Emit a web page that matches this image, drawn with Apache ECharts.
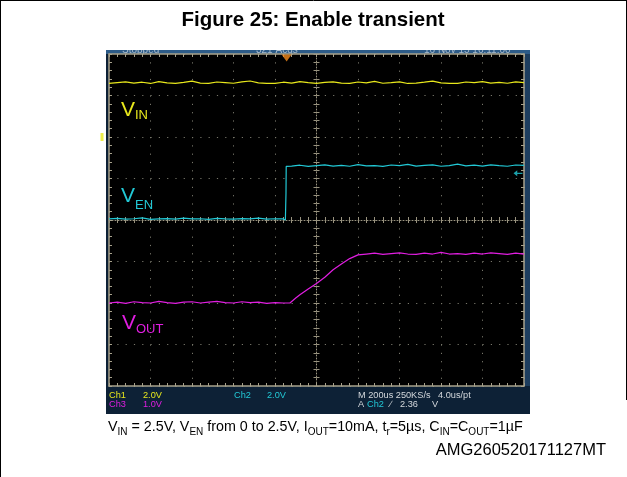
<!DOCTYPE html>
<html><head><meta charset="utf-8">
<script src="https://cdn.jsdelivr.net/npm/echarts@6/dist/echarts.min.js"></script>
<style>html,body{margin:0;padding:0;background:#fff}#c{width:627px;height:477px}</style>
</head><body><div id="c"></div>
<script>
// ---- data (time in µs, 200 µs/div; voltages in V) ----
const vinTime = [0,40,80,120,160,200,240,280,320,360,400,440,480,520,560,600,640,680,720,760,800,840,880,920,960,1000,1040,1080,1120,1160,1200,1240,1280,1320,1360,1400,1440,1480,1520,1560,1600,1640,1680,1720,1760,1800,1840,1880,1920,1960,2000];
const vinValue = [2.58,2.62,2.66,2.60,2.64,2.58,2.67,2.61,2.58,2.63,
                  2.69,2.60,2.58,2.65,2.62,2.59,2.66,2.70,2.61,2.58,
                  2.58,2.64,2.60,2.67,2.62,2.58,2.63,2.66,2.60,2.58,
                  2.65,2.61,2.68,2.59,2.62,2.66,2.58,2.60,2.64,2.69,
                  2.61,2.58,2.58,2.65,2.62,2.67,2.60,2.63,2.59,2.66,2.62];
const venTime = [0,40,80,120,160,200,240,280,320,360,400,440,480,520,560,600,640,680,720,760,800,840,850,853,854,880,920,960,1000,1040,1080,1120,1160,1200,1240,1280,1320,1360,1400,1440,1480,1520,1560,1600,1640,1680,1720,1760,1800,1840,1880,1920,1960,2000];
const venValue = [0.05,0.08,0.04,0.06,0.10,0.03,0.05,0.07,0.04,0.09,0.05,0.06,0.03,0.08,0.05,0.04,0.07,0.05,0.09,0.04,0.06,0.05,
                  0.00,1.30,2.58,
                  2.60,2.64,2.58,2.62,2.66,2.60,2.63,2.59,2.67,2.61,2.62,2.58,2.65,2.62,2.68,2.60,2.63,2.66,2.59,2.62,2.69,2.61,2.64,2.60,2.66,2.62,2.59,2.65,2.63];
const voutTime = [0,40,80,120,160,200,240,280,320,360,400,440,480,520,560,600,640,680,720,760,800,840,872,900,920,960,1000,1040,1080,1120,1160,1200,1240,1280,1320,1360,1400,1440,1480,1520,1560,1600,1640,1680,1720,1760,1800,1840,1880,1920,1960,2000];
const voutValue = [0.00,0.02,-0.01,0.03,0.01,0.00,0.04,0.01,-0.01,0.02,0.03,0.00,0.02,0.04,0.01,0.00,0.03,0.01,0.02,-0.01,0.01,0.00,
                   0.00,0.12,0.20,0.34,0.47,0.62,0.80,0.94,1.07,1.16,
                   1.18,1.20,1.17,1.19,1.21,1.18,1.17,1.20,1.18,1.22,1.18,1.19,1.17,1.20,1.18,1.21,1.19,1.17,1.20,1.18];
const triggerTime = 856;      // µs
const triggerLevel = 2.25;    // V (Ch2)
const timeRange = [0, 2000];  // 10 div x 200 µs
const vinRange = [-12, 4];    // Ch1 2.0 V/div
const venRange = [-8, 8];     // Ch2 2.0 V/div
const voutRange = [-2, 6];    // Ch3 1.0 V/div

const zip = (t, v) => t.map((x, i) => [x, v[i]]);
const FONT = "'Liberation Sans', Arial, sans-serif";
const borderCol = '#a8a28c', gridCol = '#77766a', centerCol = '#99937f';
const YEL = '#e8e81c', CYA = '#22c9d6', MAG = '#e11ee1', LIGHT = '#d4d8dc';

const chart = echarts.init(document.getElementById('c'));
const edgeTick = {show:true, inside:true, length:3, lineStyle:{color:borderCol}};
const edgeMinor = {show:true, splitNumber:5, length:3, lineStyle:{color:borderCol}};
const noLabel = {show:false};
function txt(text, x, y, size, color, z) {
  return {type:'text', z:(z == null ? 20 : z), style:{text, x, y, font:`${size}px ${FONT}`, fill:color, verticalAlign:'bottom'}};
}
const option = {
  backgroundColor:'#fff',
  animation:false,
  grid:{left:109, top:54, width:415, height:332, show:true, backgroundColor:'#000', borderWidth:0},
  xAxis:[
    {type:'value', min:timeRange[0], max:timeRange[1], interval:200, position:'bottom',
     axisLine:{onZero:false, lineStyle:{color:borderCol, width:1.5}}, axisTick:edgeTick, minorTick:edgeMinor, axisLabel:noLabel,
     splitLine:{show:true, lineStyle:{color:gridCol, type:[1.2,7.1], width:1}}},
    {type:'value', min:timeRange[0], max:timeRange[1], interval:200, position:'top',
     axisLine:{onZero:false, lineStyle:{color:borderCol, width:1.5}}, axisTick:edgeTick, minorTick:edgeMinor, axisLabel:noLabel, splitLine:{show:false}},
    {type:'value', min:-5, max:5, interval:1, position:'bottom',
     axisLine:{onZero:true, onZeroAxisIndex:3, lineStyle:{color:centerCol, type:[1,2], width:1}},
     axisTick:{show:true, inside:true, length:3, lineStyle:{color:centerCol}}, minorTick:{show:true, splitNumber:5, length:3, lineStyle:{color:centerCol}},
     axisLabel:noLabel, splitLine:{show:false}},
    {type:'value', min:-5, max:5, interval:1, position:'bottom',
     axisLine:{show:false, onZero:true, onZeroAxisIndex:3},
     axisTick:{show:true, inside:false, length:3, lineStyle:{color:centerCol}}, minorTick:{show:true, splitNumber:5, length:3, lineStyle:{color:centerCol}},
     axisLabel:noLabel, splitLine:{show:false}}
  ],
  yAxis:[
    {type:'value', min:vinRange[0], max:vinRange[1], show:false, axisLine:{onZero:false}},
    {type:'value', min:venRange[0], max:venRange[1], show:false, axisLine:{onZero:false}},
    {type:'value', min:voutRange[0], max:voutRange[1], show:false, axisLine:{onZero:false}},
    {type:'value', min:-4, max:4, interval:1, position:'left',
     axisLine:{onZero:false, lineStyle:{color:borderCol, width:1.5}}, axisTick:edgeTick, minorTick:edgeMinor, axisLabel:noLabel,
     splitLine:{show:true, lineStyle:{color:gridCol, type:[1.2,7.1], width:1}}},
    {type:'value', min:-4, max:4, interval:1, position:'right',
     axisLine:{onZero:false, lineStyle:{color:borderCol, width:1.5}}, axisTick:edgeTick, minorTick:edgeMinor, axisLabel:noLabel, splitLine:{show:false}},
    {type:'value', min:-4, max:4, interval:1, position:'left',
     axisLine:{onZero:true, onZeroAxisIndex:2, lineStyle:{color:centerCol, type:[1,2], width:1}},
     axisTick:{show:true, inside:true, length:3, lineStyle:{color:centerCol}}, minorTick:{show:true, splitNumber:5, length:3, lineStyle:{color:centerCol}},
     axisLabel:noLabel, splitLine:{show:false}},
    {type:'value', min:-4, max:4, interval:1, position:'left',
     axisLine:{show:false, onZero:true, onZeroAxisIndex:2},
     axisTick:{show:true, inside:false, length:3, lineStyle:{color:centerCol}}, minorTick:{show:true, splitNumber:5, length:3, lineStyle:{color:centerCol}},
     axisLabel:noLabel, splitLine:{show:false}}
  ],
  series:[
    {type:'line', name:'VIN', xAxisIndex:0, yAxisIndex:0, data:zip(vinTime, vinValue), showSymbol:false, lineStyle:{color:YEL, width:1.2}, z:5},
    {type:'line', name:'VEN', xAxisIndex:0, yAxisIndex:1, data:zip(venTime, venValue), showSymbol:false, lineStyle:{color:CYA, width:1.2}, z:5},
    {type:'line', name:'VOUT', xAxisIndex:0, yAxisIndex:2, data:zip(voutTime, voutValue), showSymbol:false, lineStyle:{color:MAG, width:1.2}, z:5},
    {type:'scatter', xAxisIndex:0, yAxisIndex:3, data:[[triggerTime, 4]], symbol:'triangle', symbolRotate:180, symbolSize:[10,7], symbolOffset:[0,4],
     itemStyle:{color:'#f28a1c'}, clip:false, z:8, silent:true},
    {type:'scatter', xAxisIndex:0, yAxisIndex:1, data:[[timeRange[1], triggerLevel]], symbol:'path://M0,5 L5,0 L5,4 L12,4 L12,6 L5,6 L5,10 Z', symbolSize:[9,6], symbolOffset:[-6,0],
     itemStyle:{color:CYA}, clip:false, z:8, silent:true},
    {type:'scatter', xAxisIndex:0, yAxisIndex:0, data:[[timeRange[0], 0]], symbol:'rect', symbolSize:[3,8], symbolOffset:[-7,0],
     itemStyle:{color:YEL}, clip:false, z:8, silent:true}
  ],
  graphic:[
    {type:'rect', z:-5, shape:{x:106, y:44, width:424, height:370}, style:{fill:'#0d2136'}},
    {type:'rect', z:-4, shape:{x:106, y:44, width:424, height:10}, style:{fill:'#2d5b87'}},
    {type:'rect', z:-4, shape:{x:524, y:54, width:6, height:332}, style:{fill:'#1d3d5e'}},
    txt('Stopped', 122, 55, 10, '#a9bccd', -3),
    txt('321 Acqs', 256, 55, 10, '#a9bccd', -3),
    txt('16 Nov 15 16:11:00', 424, 55, 10, '#a9bccd', -3),
    {type:'rect', z:15, shape:{x:100, y:30, width:440, height:20}, style:{fill:'#fff'}},
    // frame
    {type:'line', z:30, shape:{x1:0, y1:0.5, x2:627, y2:0.5}, style:{stroke:'#000', lineWidth:1}},
    {type:'line', z:30, shape:{x1:0.5, y1:0, x2:0.5, y2:477}, style:{stroke:'#000', lineWidth:1}},
    {type:'line', z:30, shape:{x1:626.5, y1:0, x2:626.5, y2:400}, style:{stroke:'#000', lineWidth:1}},
    // title
    {type:'text', z:20, style:{text:'Figure 25: Enable transient', x:313, y:31, align:'center', verticalAlign:'bottom', font:`bold 20.5px ${FONT}`, fill:'#000'}},
    // trace labels
    txt('V', 121, 121, 21, YEL), txt('IN', 135, 122, 13, YEL),
    txt('V', 121, 207, 21, CYA), txt('EN', 135, 212, 13, CYA),
    txt('V', 122, 334, 21, MAG), txt('OUT', 136, 336, 13, MAG),
    // scope readout
    txt('Ch1', 109, 399.5, 9.2, YEL), txt('2.0V', 143, 399.5, 9.2, YEL),
    txt('Ch3', 109, 408.5, 9.2, MAG), txt('1.0V', 143, 408.5, 9.2, MAG),
    txt('Ch2', 234, 399.5, 9.2, CYA), txt('2.0V', 267, 399.5, 9.2, CYA),
    txt('M 200us 250KS/s', 358, 399.5, 9.2, LIGHT), txt('4.0us/pt', 438, 399.5, 9.2, LIGHT),
    txt('A', 358, 408.5, 9.2, LIGHT), txt('Ch2', 367, 408.5, 9.2, CYA), txt('\u2215', 390, 408.5, 9.2, LIGHT),
    txt('2.36', 400, 408.5, 9.2, LIGHT), txt('V', 432, 408.5, 9.2, LIGHT),
    // caption
    {type:'text', z:20, style:{x:108, y:437, verticalAlign:'bottom',
      text:'{m|V}{s|IN}{m| = 2.5V, V}{s|EN}{m| from 0 to 2.5V, I}{s|OUT}{m|=10mA, t}{s|r}{m|=5µs, C}{s|IN}{m|=C}{s|OUT}{m|=1µF}',
      rich:{m:{fontSize:14.3, fontFamily:FONT, fill:'#000', verticalAlign:'bottom', padding:[0,0,3,0]},
            s:{fontSize:10, fontFamily:FONT, fill:'#000', verticalAlign:'bottom'}}}},
    {type:'text', z:20, style:{text:'AMG260520171127MT', x:606, y:459, align:'right', verticalAlign:'bottom', font:`16.5px ${FONT}`, fill:'#000'}}
  ]
};
chart.setOption(option);
</script></body></html>
